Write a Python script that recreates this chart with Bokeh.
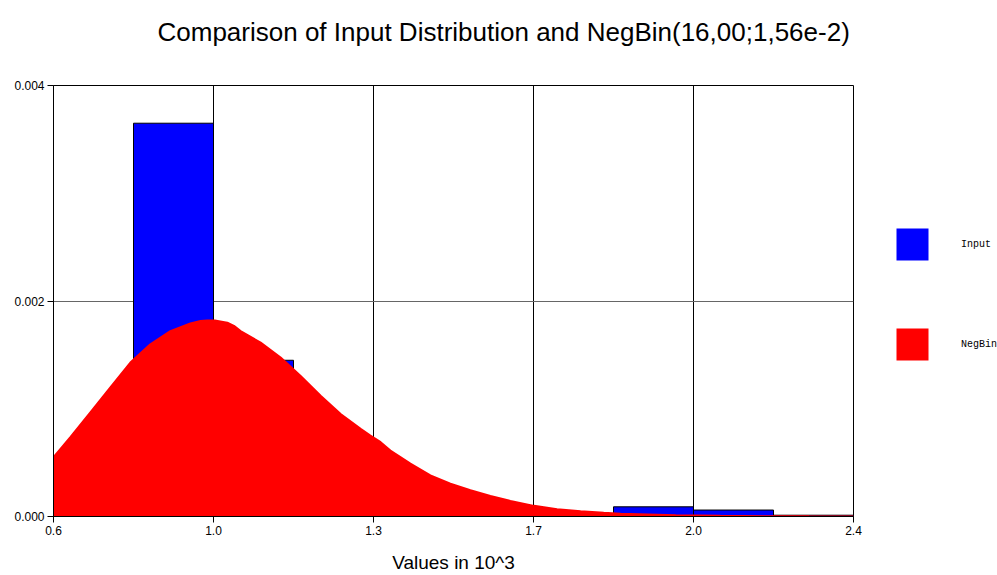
from bokeh.plotting import figure
from bokeh.layouts import row
from bokeh.models import Legend, LegendItem, Range1d, FixedTicker, Title
from bokeh.embed import file_html
from bokeh.resources import INLINE

# ---- data (x in 10^3) ----
bin_left = [0.78, 0.96, 1.14, 1.32, 1.50, 1.68, 1.86, 2.04, 2.22]
bin_right = [0.96, 1.14, 1.32, 1.50, 1.68, 1.86, 2.04, 2.22, 2.40]
input_density = [0.00365, 0.00145, 0.00020, 0.00005, 0.00003, 0.00001, 0.00009, 0.00006, 0.000012]

negbin_x = [0.600, 0.638, 0.683, 0.728, 0.773, 0.818, 0.863, 0.908, 0.931, 0.946,
            0.963, 0.991, 1.006, 1.021, 1.066, 1.111, 1.156, 1.201, 1.246, 1.291,
            1.313, 1.336, 1.358, 1.403, 1.448, 1.493, 1.538, 1.583, 1.628, 1.681,
            1.733, 1.786, 1.838, 1.876, 2.000, 2.100, 2.200, 2.300, 2.400]
negbin_y = [0.000551, 0.000736, 0.000967, 0.001198, 0.001429, 0.001598, 0.001721,
            0.001792, 0.001815, 0.001820, 0.001818, 0.001799, 0.001769, 0.001721,
            0.001614, 0.001475, 0.001305, 0.001121, 0.000951, 0.000813, 0.000751,
            0.000690, 0.000612, 0.000490, 0.000382, 0.000305, 0.000243, 0.000191,
            0.000145, 0.0000988, 0.0000674, 0.000049, 0.000034, 0.000025, 0.000012,
            0.000006, 0.000003, 0.0000015, 0.0000008]

x_ticks = [0.6, 0.96, 1.32, 1.68, 2.04, 2.4]
x_tick_labels = ["0.6", "1.0", "1.3", "1.7", "2.0", "2.4"]
y_ticks = [0.0, 0.002, 0.004]
y_tick_labels = ["0.000", "0.002", "0.004"]

series_names = ["Input", "NegBin"]
series_colors = ["#0000FF", "#FF0000"]

title_text = "Comparison of Input Distribution and NegBin(16,00;1,56e-2)"
x_label = "Values in 10^3"

p = figure(width=873, height=575, output_backend="svg", toolbar_location=None,
           x_range=Range1d(0.6, 2.4), y_range=Range1d(0.0, 0.004))
p.min_border_left = 53
p.min_border_top = 85
p.min_border_bottom = 57
p.min_border_right = 20
p.background_fill_color = "white"
p.border_fill_color = "white"
p.outline_line_color = "black"
p.outline_line_width = 1

# spacer between frame and title, then the title itself
spacer = Title(text=" ", text_font_size="1px", standoff=21)
p.add_layout(spacer, "above")
t = Title(text=title_text, align="left", text_font="Liberation Sans",
          text_font_size="26px", text_font_style="normal", text_color="black",
          offset=104, standoff=29)
p.add_layout(t, "above")

# grid
p.xgrid.ticker = FixedTicker(ticks=x_ticks)
p.ygrid.ticker = FixedTicker(ticks=y_ticks)
p.xgrid.grid_line_color = "black"
p.ygrid.grid_line_color = "#666666"
p.xgrid.grid_line_width = 1
p.ygrid.grid_line_width = 1

p.quad(left=bin_left, right=bin_right, bottom=0, top=input_density,
       fill_color=series_colors[0], line_color="black", line_width=1)
p.varea(x=negbin_x, y1=0, y2=negbin_y, fill_color=series_colors[1])
p.line(x=negbin_x, y=negbin_y, line_color=series_colors[1], line_width=2)

# axes
p.xaxis.ticker = FixedTicker(ticks=x_ticks)
p.xaxis.major_label_overrides = {x: s for x, s in zip(x_ticks, x_tick_labels)}
p.yaxis.ticker = FixedTicker(ticks=y_ticks)
p.yaxis.major_label_overrides = {y: s for y, s in zip(y_ticks, y_tick_labels)}
for ax in (p.xaxis, p.yaxis):
    ax.axis_line_color = "black"
    ax.major_tick_line_color = "black"
    ax.minor_tick_line_color = None
    ax.major_tick_in = 0
    ax.major_tick_out = 6
    ax.major_label_text_font = "Liberation Sans"
    ax.major_label_text_font_size = "12px"
    ax.major_label_text_color = "black"
    ax.major_label_standoff = 3
p.yaxis.major_label_orientation = "horizontal"
p.xaxis.axis_label = x_label
p.xaxis.axis_label_text_font = "Liberation Sans"
p.xaxis.axis_label_text_font_size = "19px"
p.xaxis.axis_label_text_font_style = "normal"
p.xaxis.axis_label_text_color = "black"
p.xaxis.axis_label_standoff = 14

# legend panel (separate canvas to the right of the plot)
lf = figure(width=124, height=575, output_backend="svg", toolbar_location=None,
            x_range=Range1d(0, 124), y_range=Range1d(0, 575),
            x_axis_type=None, y_axis_type=None, min_border=0)
lf.outline_line_color = None
lf.grid.visible = False
lf.background_fill_color = "white"
lf.border_fill_color = "white"
swatches = [lf.quad(left=[-20], right=[-10], top=[-10], bottom=[-20], fill_color=c, line_color=None)
            for c in series_colors]
legend = Legend(items=[LegendItem(label=n, renderers=[r]) for n, r in zip(series_names, swatches)],
                location=(19, 144), orientation="vertical",
                glyph_width=40, glyph_height=40, label_height=56,
                spacing=44, padding=0, margin=0, label_standoff=29,
                label_text_font="Liberation Mono", label_text_font_size="10px",
                label_text_color="black", border_line_color=None,
                background_fill_alpha=0)
lf.add_layout(legend, "center")

layout = row(p, lf)
open("out.html", "w").write(file_html(layout, INLINE))
